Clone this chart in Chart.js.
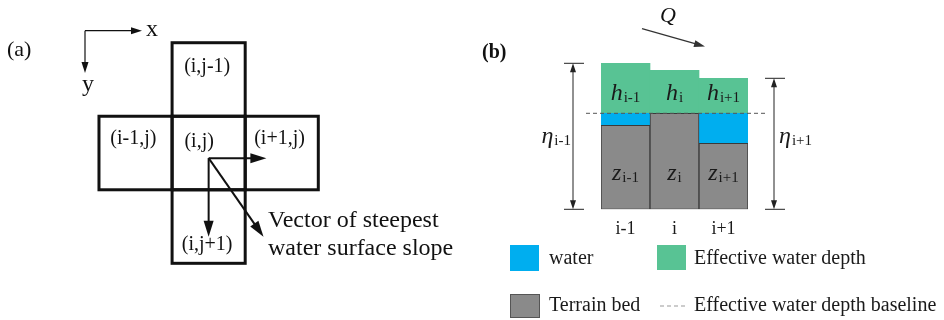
<!DOCTYPE html>
<html>
<head>
<meta charset="utf-8">
<script src="https://cdn.jsdelivr.net/npm/chart.js@4.4.0/dist/chart.umd.min.js"></script>
<style>
  html, body { margin: 0; padding: 0; background: #fff; }
  #wrap { position: relative; width: 944px; height: 320px; }
  canvas { position: absolute; left: 0; top: 0; }
</style>
</head>
<body>
<div id="wrap">
  <canvas id="gridChart" width="944" height="320"></canvas>
  <canvas id="barChart" width="944" height="320"></canvas>
</div>
<script>
// panel (a): five-cell stencil around (i,j)
const cellLabels = ['(i,j-1)', '(i-1,j)', '(i,j)', '(i+1,j)', '(i,j+1)'];
const cellCols = [0, -1, 0, 1, 0];
const cellRows = [-1, 0, 0, 0, 1];
// vectors leaving (i,j), in cell units
const vecStart = [0, 0.07];
const vecDx = [0.79, 0, 0.75];
const vecDy = [0, 1.07, 1.07];

// panel (b): cross section
const columns = ['i-1', 'i', 'i+1'];
const terrainBed = [84, 96, 66];
const baselineLevel = 96;
const waterSurface = [146, 139, 131];

const SERIF = '"Liberation Serif", "Times New Roman", serif';
const INK = '#111';

function arrowHead(ctx, x1, y1, x2, y2, len, wid) {
  const a = Math.atan2(y2 - y1, x2 - x1);
  const bx = x2 - len * Math.cos(a), by = y2 - len * Math.sin(a);
  ctx.beginPath();
  ctx.moveTo(x2, y2);
  ctx.lineTo(bx + wid / 2 * Math.sin(a), by - wid / 2 * Math.cos(a));
  ctx.lineTo(bx - wid / 2 * Math.sin(a), by + wid / 2 * Math.cos(a));
  ctx.closePath();
  ctx.fill();
}

function arrow(ctx, x1, y1, x2, y2, lw, len, wid) {
  const a = Math.atan2(y2 - y1, x2 - x1);
  ctx.lineWidth = lw;
  ctx.beginPath();
  ctx.moveTo(x1, y1);
  ctx.lineTo(x2 - len * 0.7 * Math.cos(a), y2 - len * 0.7 * Math.sin(a));
  ctx.stroke();
  arrowHead(ctx, x1, y1, x2, y2, len, wid);
}

// italic symbol with upright subscript, centred on cx, baseline at y
function subLabel(ctx, main, sub, cx, y, size, subSize, align) {
  ctx.font = 'italic ' + size + 'px ' + SERIF;
  const w1 = ctx.measureText(main).width;
  ctx.font = subSize + 'px ' + SERIF;
  const w2 = ctx.measureText(sub).width;
  let x0 = cx - (w1 + w2 + 1) / 2;
  if (align === 'right') x0 = cx - (w1 + w2 + 1);
  if (align === 'left') x0 = cx;
  ctx.textAlign = 'left';
  ctx.textBaseline = 'alphabetic';
  ctx.font = 'italic ' + size + 'px ' + SERIF;
  ctx.fillText(main, x0, y);
  ctx.font = subSize + 'px ' + SERIF;
  ctx.fillText(sub, x0 + w1 + 1, y + 2);
}

const stencilPlugin = {
  id: 'stencil',
  afterDraw(chart) {
    const ctx = chart.ctx;
    const xs = chart.scales.x, ys = chart.scales.y;
    ctx.save();
    ctx.strokeStyle = INK;
    ctx.fillStyle = INK;

    // coordinate axes
    arrow(ctx, 85, 30.7, 142, 30.7, 1.2, 11, 7);
    arrow(ctx, 85, 30.7, 85, 73, 1.2, 11, 7);
    ctx.font = '24px ' + SERIF;
    ctx.textAlign = 'left';
    ctx.textBaseline = 'alphabetic';
    ctx.fillText('x', 146, 36);
    ctx.textAlign = 'center';
    ctx.fillText('y', 88, 91);
    ctx.font = '22px ' + SERIF;
    ctx.textAlign = 'left';
    ctx.textBaseline = 'middle';
    ctx.fillText('(a)', 7, 50);

    // cells
    ctx.lineWidth = 3;
    ctx.lineJoin = 'miter';
    const labelDx = [-0.02, -0.03, -0.13, -0.03, -0.02];
    const labelDy = [-0.18, -0.2, -0.15, -0.2, 0.25];
    cellCols.forEach((c, k) => {
      const r = cellRows[k];
      const l = xs.getPixelForValue(c - 0.5), rr = xs.getPixelForValue(c + 0.5);
      const t = ys.getPixelForValue(r - 0.5), b = ys.getPixelForValue(r + 0.5);
      ctx.strokeRect(l, t, rr - l, b - t);
    });
    ctx.font = '20px ' + SERIF;
    ctx.textAlign = 'center';
    ctx.textBaseline = 'middle';
    cellLabels.forEach((lab, k) => {
      ctx.fillText(lab, xs.getPixelForValue(cellCols[k] + labelDx[k]), ys.getPixelForValue(cellRows[k] + labelDy[k]));
    });

    // vectors from (i,j)
    const ox = xs.getPixelForValue(vecStart[0]), oy = ys.getPixelForValue(vecStart[1]);
    vecDx.forEach((dx, k) => {
      arrow(ctx, ox, oy, xs.getPixelForValue(vecStart[0] + dx), ys.getPixelForValue(vecStart[1] + vecDy[k]), 2, 16, 10);
    });
    ctx.font = '24px ' + SERIF;
    ctx.textAlign = 'left';
    ctx.textBaseline = 'alphabetic';
    ctx.fillText('Vector of steepest', 268, 227);
    ctx.fillText('water surface slope', 268, 255);
    ctx.restore();
  }
};

const sectionPlugin = {
  id: 'section',
  afterDraw(chart) {
    const ctx = chart.ctx;
    const xs = chart.scales.x, ys = chart.scales.y;
    const ca = chart.chartArea;
    ctx.save();
    ctx.fillStyle = INK;
    ctx.strokeStyle = INK;

    ctx.font = 'bold 20px ' + SERIF;
    ctx.textAlign = 'left';
    ctx.textBaseline = 'middle';
    ctx.fillText('(b)', 482, 53);

    // flow direction
    ctx.font = 'italic 22px ' + SERIF;
    ctx.textAlign = 'center';
    ctx.textBaseline = 'alphabetic';
    ctx.fillText('Q', 668, 22);
    ctx.strokeStyle = '#333';
    ctx.fillStyle = '#333';
    arrow(ctx, 642, 28.7, 705, 46.5, 1.2, 11, 7);

    // effective water depth baseline
    const yb = ys.getPixelForValue(baselineLevel);
    ctx.strokeStyle = '#555';
    ctx.lineWidth = 1;
    ctx.setLineDash([4, 3]);
    ctx.beginPath();
    ctx.moveTo(586, yb);
    ctx.lineTo(767, yb);
    ctx.stroke();
    ctx.setLineDash([]);

    // labels in the columns
    ctx.fillStyle = '#1a1a1a';
    columns.forEach((c, k) => {
      const cx = xs.getPixelForValue(k);
      subLabel(ctx, 'h', c.replace('i', 'i'), cx, yb - 13, 24, 15);
      subLabel(ctx, 'z', c, cx, 180, 24, 15);
      ctx.font = '18px ' + SERIF;
      ctx.textAlign = 'center';
      ctx.textBaseline = 'alphabetic';
      ctx.fillText(c, cx, 234);
    });

    // eta dimension lines
    const y0 = ys.getPixelForValue(0);
    const dims = [[573, waterSurface[0]], [774, waterSurface[2]]];
    ctx.strokeStyle = '#222';
    ctx.fillStyle = '#222';
    dims.forEach(([x, v]) => {
      const yt = ys.getPixelForValue(v);
      ctx.lineWidth = 1;
      ctx.beginPath();
      ctx.moveTo(x - 9, yt); ctx.lineTo(x + 11, yt);
      ctx.moveTo(x - 9, y0); ctx.lineTo(x + 11, y0);
      ctx.moveTo(x, yt + 6); ctx.lineTo(x, y0 - 6);
      ctx.stroke();
      arrowHead(ctx, x, y0 - 10, x, yt, 9, 6);
      arrowHead(ctx, x, yt + 10, x, y0, 9, 6);
    });
    ctx.fillStyle = '#1a1a1a';
    subLabel(ctx, '\u03b7', 'i-1', 571, 143, 24, 15, 'right');
    subLabel(ctx, '\u03b7', 'i+1', 779, 143, 24, 15, 'left');

    // legend
    const ds = chart.data.datasets;
    const items = [
      { d: ds[1], x: 510, y: 245, w: 29, h: 26, tx: 549, ty: 264 },
      { d: ds[2], x: 657, y: 245, w: 29, h: 25, tx: 694, ty: 264 },
      { d: ds[0], x: 510, y: 294, w: 30, h: 24, tx: 549, ty: 311 }
    ];
    ctx.font = '20px ' + SERIF;
    ctx.textAlign = 'left';
    ctx.textBaseline = 'alphabetic';
    items.forEach(it => {
      ctx.fillStyle = it.d.backgroundColor;
      ctx.fillRect(it.x, it.y, it.w, it.h);
      if (it.d.borderWidth) {
        ctx.strokeStyle = '#555';
        ctx.lineWidth = 1;
        ctx.strokeRect(it.x + 0.5, it.y + 0.5, it.w - 1, it.h - 1);
      }
      ctx.fillStyle = '#1a1a1a';
      ctx.fillText(it.d.label, it.tx, it.ty);
    });
    ctx.strokeStyle = '#999';
    ctx.lineWidth = 1;
    ctx.setLineDash([4, 3]);
    ctx.beginPath();
    ctx.moveTo(660, 306); ctx.lineTo(685, 306);
    ctx.stroke();
    ctx.setLineDash([]);
    ctx.fillText('Effective water depth baseline', 694, 311);
    ctx.restore();
  }
};

new Chart(document.getElementById('gridChart'), {
  type: 'scatter',
  data: {
    datasets: [{
      data: cellCols.map((c, k) => ({ x: c, y: cellRows[k] })),
      pointRadius: 0
    }]
  },
  options: {
    responsive: false,
    animation: false,
    devicePixelRatio: 1,
    events: [],
    layout: { padding: 0 },
    plugins: { legend: { display: false }, tooltip: { enabled: false } },
    scales: {
      x: { type: 'linear', display: false, min: -2.854, max: 10.059 },
      y: { type: 'linear', display: false, reverse: true, min: -2.081, max: 2.271 }
    }
  },
  plugins: [stencilPlugin]
});

new Chart(document.getElementById('barChart'), {
  type: 'bar',
  data: {
    labels: columns,
    datasets: [
      {
        label: 'Terrain bed',
        data: terrainBed.map(v => [0, v]),
        backgroundColor: '#8a8a8a',
        borderColor: '#3a3a3a',
        borderWidth: 1,
        borderSkipped: false
      },
      {
        label: 'water',
        data: columns.map((c, k) => [terrainBed[k], baselineLevel]),
        backgroundColor: '#00aeef',
        borderWidth: 0
      },
      {
        label: 'Effective water depth',
        data: columns.map((c, k) => [baselineLevel, waterSurface[k]]),
        backgroundColor: '#58c394',
        borderWidth: 0
      }
    ]
  },
  options: {
    responsive: false,
    animation: false,
    devicePixelRatio: 1,
    events: [],
    layout: { padding: { left: 601, right: 196, top: 0, bottom: 110.7 } },
    datasets: { bar: { grouped: false, barPercentage: 1, categoryPercentage: 1 } },
    plugins: { legend: { display: false }, tooltip: { enabled: false } },
    scales: {
      x: { display: false },
      y: { display: false, min: 0, max: 209.3 }
    }
  },
  plugins: [sectionPlugin]
});
</script>
</body>
</html>
